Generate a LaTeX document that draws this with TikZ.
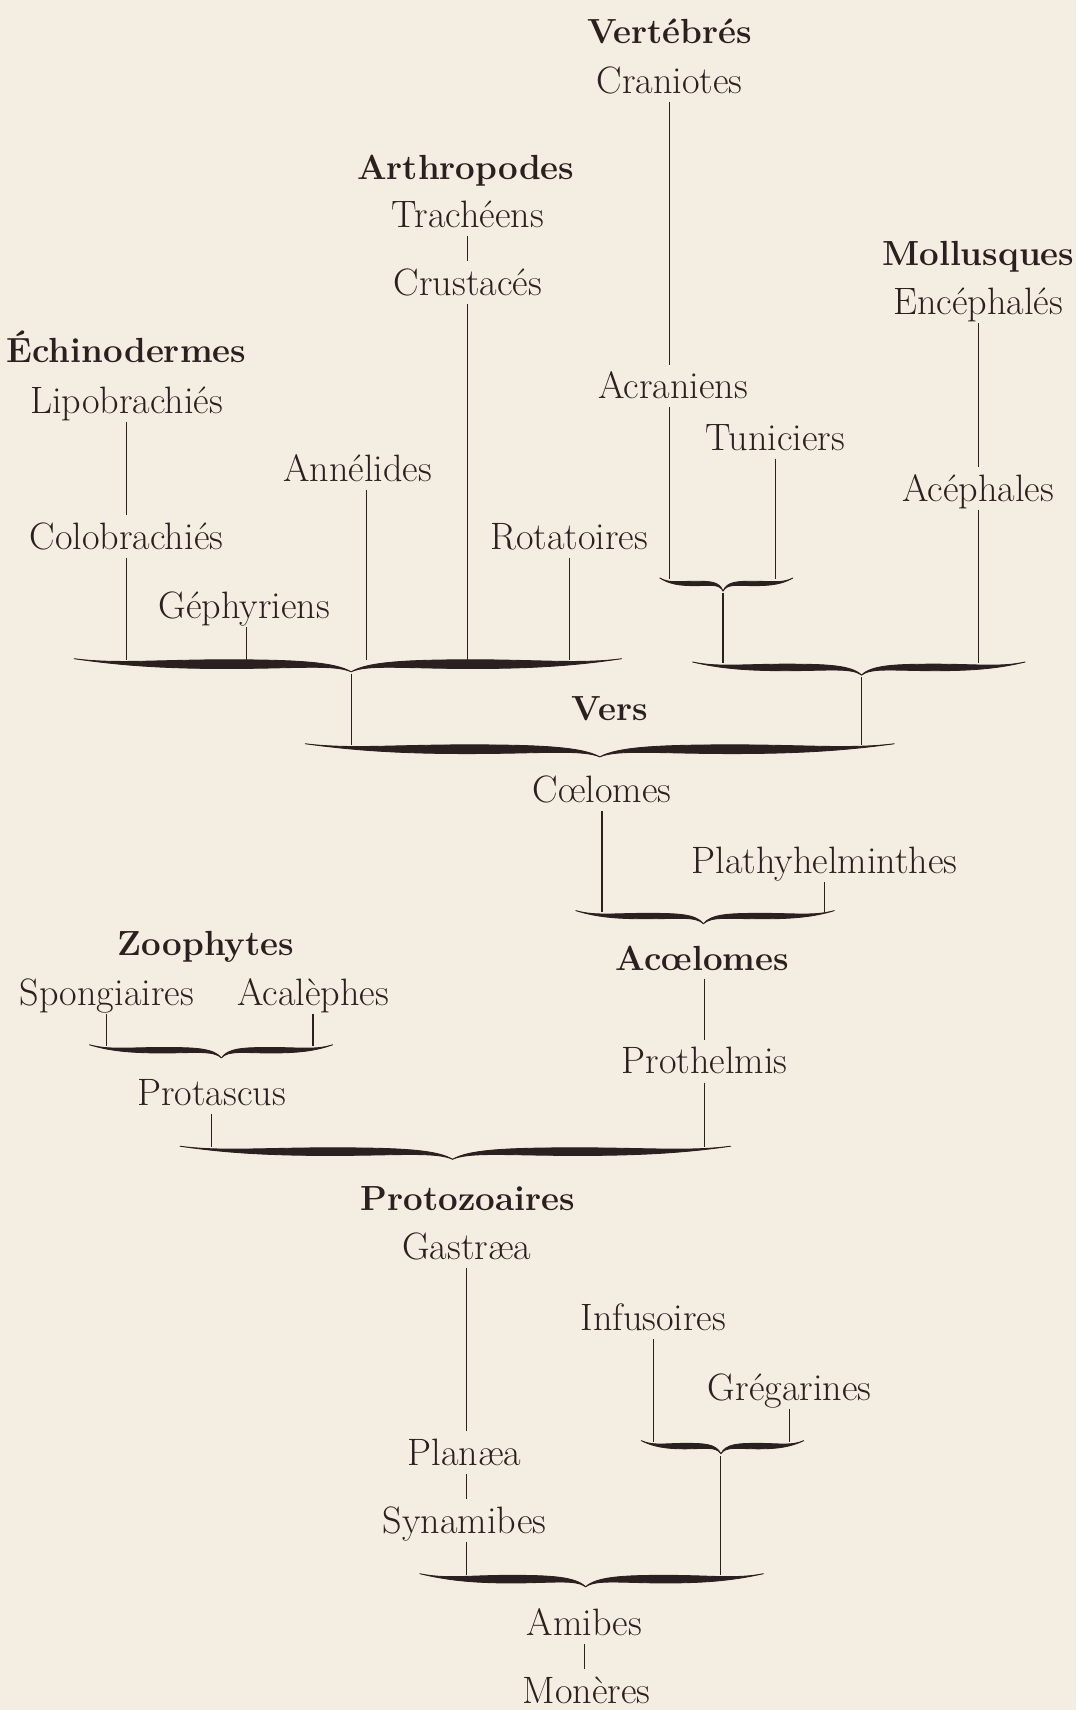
\documentclass[tikz,border=0pt]{standalone}
\usepackage{tikz}
\definecolor{bg}{HTML}{F4EEE2}
\definecolor{ink}{HTML}{2A2020}
\tikzset{
  lbl/.style={text=ink, font=\fontsize{17.5}{20}\selectfont, inner sep=0.5pt, text height=15pt, text depth=3.2pt, anchor=center},
  hd/.style={lbl, font=\fontsize{16}{19}\selectfont\bfseries},
  ln/.style={draw=ink, line width=0.55pt},
  brc/.style={fill=ink, draw=ink, line width=0.4pt, line join=round},
}
% #1 left x, #2 right x, #3 y, #4 centre x, #5 thickness, #6 name
\newcommand\hbr[6]{%
  \path[brc] (#1,{#3-5})
    .. controls ({#1+0.15*(#4-#1)},{#3}) and ({#1+0.3*(#4-#1)},{#3-#5/2}) .. ({#1+0.55*(#4-#1)},{#3-#5/2})
    .. controls ({#1+0.8*(#4-#1)},{#3-#5/2}) and ({#4-0.06*(#4-#1)},{#3-2}) .. (#4,{#3+7})
    .. controls ({#4-0.06*(#4-#1)},{#3}) and ({#1+0.8*(#4-#1)},{#3+#5/2}) .. ({#1+0.55*(#4-#1)},{#3+#5/2})
    .. controls ({#1+0.3*(#4-#1)},{#3+#5/2}) and ({#1+0.15*(#4-#1)},{#3+0.5}) .. (#1,{#3-5}) -- cycle;
  \path[brc] (#4,{#3+7})
    .. controls ({#4+0.06*(#2-#4)},{#3-2}) and ({#2-0.8*(#2-#4)},{#3-#5/2}) .. ({#2-0.55*(#2-#4)},{#3-#5/2})
    .. controls ({#2-0.3*(#2-#4)},{#3-#5/2}) and ({#2-0.15*(#2-#4)},{#3}) .. (#2,{#3-5})
    .. controls ({#2-0.15*(#2-#4)},{#3+0.5}) and ({#2-0.3*(#2-#4)},{#3+#5/2}) .. ({#2-0.55*(#2-#4)},{#3+#5/2})
    .. controls ({#2-0.8*(#2-#4)},{#3+#5/2}) and ({#4+0.06*(#2-#4)},{#3}) .. (#4,{#3+7}) -- cycle;
  \coordinate (#6) at (#4,{#3+9});
  \coordinate (#6t) at (#4,{#3-4});
}
\begin{document}
\begin{tikzpicture}[x=0.5pt,y=-0.5pt]
\fill[bg] (0,0) rectangle (987,1568);
\useasboundingbox (0,0) rectangle (987,1568);

% Vertebres
\node[hd]  (vert)  at (614,28)  {Vertébrés};
\node[lbl] (cran)  at (614,74)  {Craniotes};
\node[lbl] (acran) at (617,354) {Acraniens};
\node[lbl] (tuni)  at (711,401) {Tuniciers};
\hbr{605}{727}{535}{663}{4}{bA}

% Mollusques
\node[hd]  (moll)  at (897,232) {Mollusques};
\node[lbl] (ence)  at (897,277) {Encéphalés};
\node[lbl] (acep)  at (897,448) {Acéphales};
\hbr{635}{940}{612}{790}{6}{bB}

% Arthropodes
\node[hd]  (arth)  at (427,153) {Arthropodes};
\node[lbl] (trac)  at (429,197) {Trachéens};
\node[lbl] (crus)  at (429,259) {Crustacés};

% Echinodermes
\node[hd]  (echi)  at (116,321) {Échinodermes};
\node[lbl] (lipo)  at (116,367) {Lipobrachiés};
\node[lbl] (colo)  at (116,492) {Colobrachiés};
\node[lbl] (ann)   at (328,430) {Annélides};
\node[lbl] (geph)  at (224,555) {Géphyriens};
\node[lbl] (rota)  at (522,492) {Rotatoires};
\hbr{68}{570}{609}{322}{8}{bC}

% Vers
\node[hd]  (vers)  at (559,649) {Vers};
\hbr{280}{820}{687}{550}{8}{bD}
\node[lbl] (coel)  at (552,724) {Cœlomes};
\node[lbl] (plat)  at (756,789) {Plathyhelminthes};
\hbr{528}{765}{840}{645}{5}{bE}
\node[hd]  (acoe)  at (644,878) {Acœlomes};
\node[lbl] (prot)  at (646,973) {Prothelmis};

% Zoophytes
\node[hd]  (zoo)   at (189,864) {Zoophytes};
\node[lbl] (spon)  at (98,910)  {Spongiaires};
\node[lbl] (acal)  at (287,910) {Acalèphes};
\hbr{82}{305}{963}{203}{5}{bF}
\node[lbl] (ptas)  at (194,1002) {Protascus};
\hbr{165}{670}{1056}{415}{7}{bG}

% Protozoaires
\node[hd]  (ptzo)  at (429,1098) {Protozoaires};
\node[lbl] (gast)  at (428,1143) {Gastræa};
\node[lbl] (plan)  at (426,1332) {Planæa};
\node[lbl] (syna)  at (426,1394) {Synamibes};
\node[lbl] (infu)  at (599,1208) {Infusoires};
\node[lbl] (greg)  at (724,1272) {Grégarines};
\hbr{588}{737}{1326}{661}{5}{bH}
\hbr{385}{700}{1448}{537}{7}{bI}
\node[lbl] (amib)  at (536,1488) {Amibes};
\node[lbl] (mone)  at (538,1550) {Monères};

% connectors
\draw[ln] (cran.south) -- (cran.south |- acran.north);
\draw[ln] (cran.south |- acran.south) -- (cran.south |- bAt);
\draw[ln] (tuni.south) -- (tuni.south |- bAt);
\draw[ln] (bA) -- (bA |- bBt);
\draw[ln] (ence.south) -- (acep.north);
\draw[ln] (acep.south) -- (acep.south |- bBt);
\draw[ln] (bB) -- (bB |- bDt);
\draw[ln] (trac.south) -- (crus.north);
\draw[ln] (crus.south) -- (crus.south |- bCt);
\draw[ln] (lipo.south) -- (colo.north);
\draw[ln] (colo.south) -- (colo.south |- bCt);
\draw[ln] ([xshift=4pt]ann.south) -- ([xshift=4pt]ann.south |- bCt);
\draw[ln] ([xshift=1pt]geph.south) -- ([xshift=1pt]geph.south |- bCt);
\draw[ln] (rota.south) -- (rota.south |- bCt);
\draw[ln] (bC) -- (bC |- bDt);
\draw[ln] (coel.south) -- (coel.south |- bEt);
\draw[ln] (plat.south) -- (plat.south |- bEt);
\draw[ln] (acoe.south -| prot.north) -- (prot.north);
\draw[ln] (prot.south) -- (prot.south |- bGt);
\draw[ln] (spon.south) -- (spon.south |- bFt);
\draw[ln] (acal.south) -- (acal.south |- bFt);
\draw[ln] (ptas.south) -- (ptas.south |- bGt);
\draw[ln] (gast.south) -- (gast.south |- plan.north);
\draw[ln] (gast.south |- plan.south) -- (gast.south |- syna.north);
\draw[ln] (gast.south |- syna.south) -- (gast.south |- bIt);
\draw[ln] (infu.south) -- (infu.south |- bHt);
\draw[ln] (greg.south) -- (greg.south |- bHt);
\draw[ln] (bH) -- (bH |- bIt);
\draw[ln] (amib.south) -- (amib.south |- mone.north);
\end{tikzpicture}
\end{document}
